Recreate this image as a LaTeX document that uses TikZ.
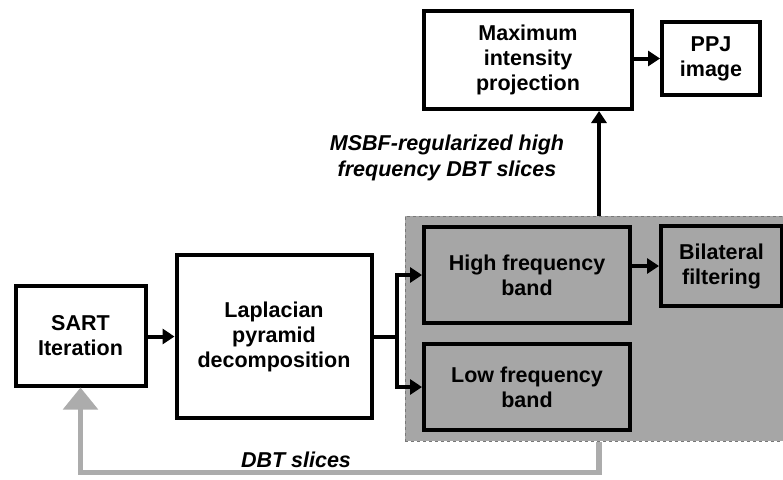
\documentclass[tikz,border=0pt]{standalone}
\usepackage{fontspec}
\setmainfont{Liberation Sans}
\usetikzlibrary{arrows.meta}
\definecolor{bandgray}{RGB}{166,166,166}
\definecolor{edgegray}{RGB}{120,120,120}
\definecolor{loopgray}{RGB}{172,172,172}
\tikzset{
  blk/.style={draw, line width=4pt, align=center, font=\bfseries\fontsize{21.5}{25}\selectfont, inner sep=0pt},
  arr/.style={line width=4pt, -{Triangle[length=12pt,width=15pt]}},
  lbl/.style={align=center, font=\bfseries\itshape\fontsize{21.5}{26}\selectfont}
}
\begin{document}
\begin{tikzpicture}[x=1pt,y=-1pt]
\useasboundingbox (0,0) rectangle (783,479);
\node[fill=bandgray, draw=edgegray, dashed, line width=1pt, minimum width=385pt, minimum height=225pt] (region) at (597.5,328.5){};
\node[blk, minimum width=130pt, minimum height=100pt] (sart) at (80.5,335.5){SART\\Iteration};
\node[blk, minimum width=195pt, minimum height=163pt] (lap) at (274,336.5){Laplacian\\pyramid\\decomposition};
\node[blk, minimum width=206pt, minimum height=96pt] (high) at (527,275){High frequency\\band};
\node[blk, minimum width=206pt, minimum height=86pt] (low) at (527,387){Low frequency\\band};
\node[blk, minimum width=121pt, minimum height=80pt] (bil) at (721.5,266){Bilateral\\filtering};
\node[blk, minimum width=208pt, minimum height=98pt] (mip) at (528,60){Maximum\\intensity\\projection};
\node[blk, minimum width=98pt, minimum height=73pt] (ppj) at (711,58.5){PPJ\\image};
\coordinate (split) at (397,337);
\coordinate (up) at (599,216);
\draw[arr] (sart.east |- lap) -- (lap.west);
\draw[line width=4pt] (lap.east |- split) -- (split);
\draw[arr] (split) |- (high.west);
\draw[arr] (split) |- (low.west);
\draw[arr] (high.east |- bil) -- (bil.west);
\draw[arr] (mip.east |- ppj) -- (ppj.west);
\draw[arr] (up) -- (up |- mip.south);
\draw[loopgray, line width=5.5pt, -{Triangle[length=22pt,width=34pt]}] (region.south -| up) -- ++(0,31) -| (sart.south);
\node[lbl] (msbf) at (447,158){MSBF-regularized high\\frequency DBT slices};
\node[lbl] (dbt) at (296,460){DBT slices};
\end{tikzpicture}
\end{document}
